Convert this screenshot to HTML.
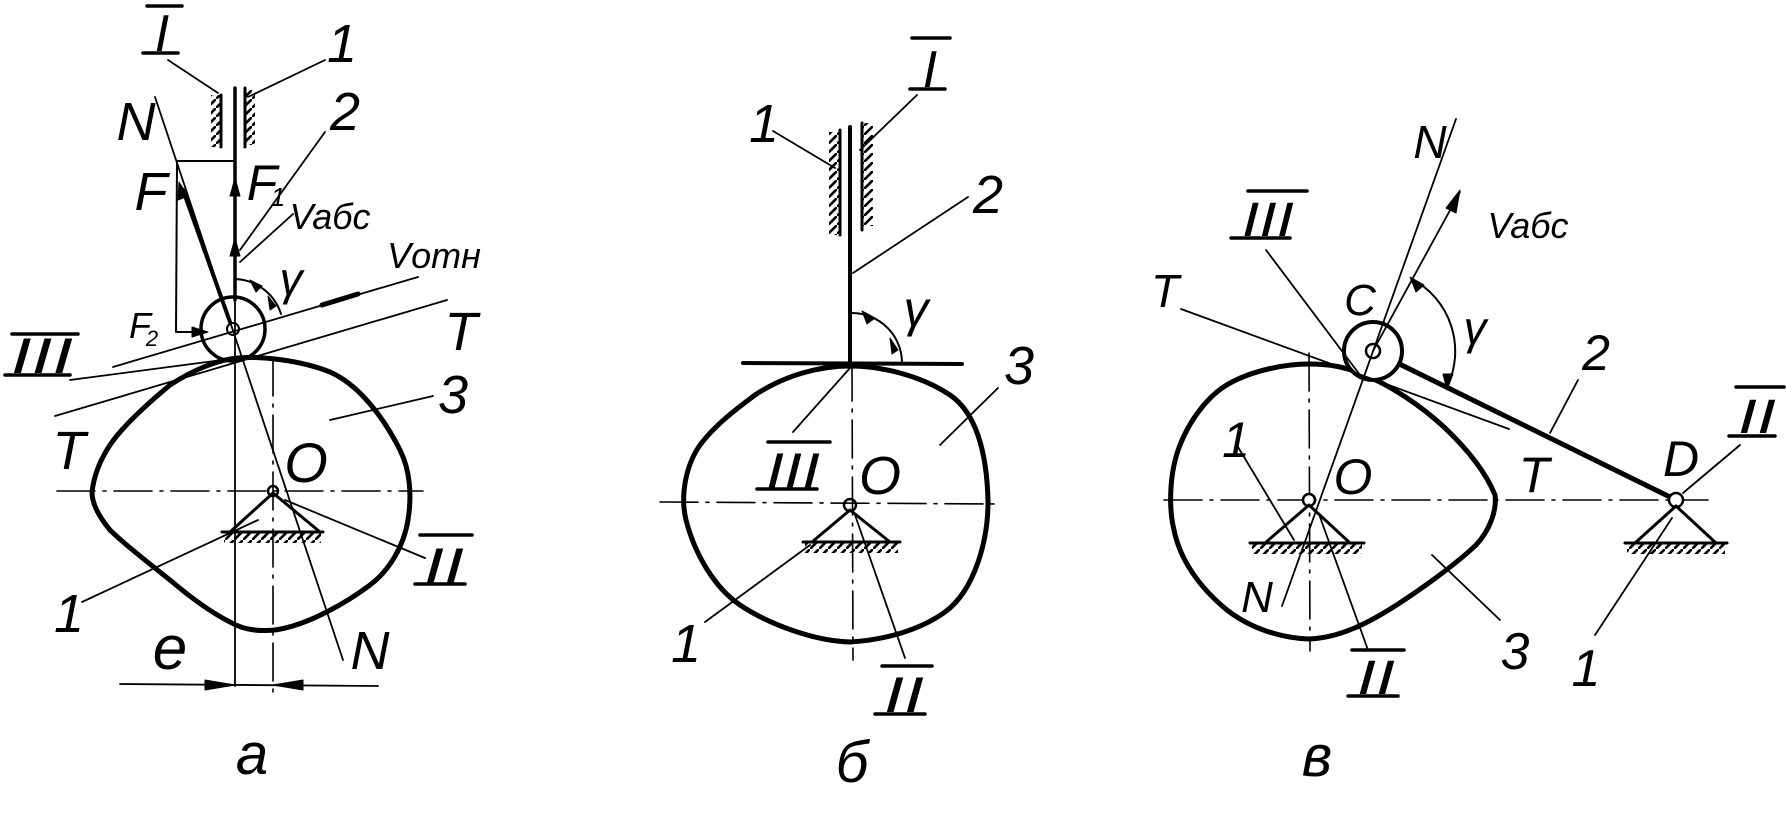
<!DOCTYPE html>
<html><head><meta charset="utf-8"><style>
html,body{margin:0;padding:0;background:#fff;}
svg{display:block}
text{font-family:"Liberation Sans",sans-serif;font-style:italic;fill:#000}
</style></head><body>
<svg width="1786" height="817" viewBox="0 0 1786 817" xmlns="http://www.w3.org/2000/svg">
<defs>
<pattern id="h" patternUnits="userSpaceOnUse" width="9" height="9"><path d="M-1,10 L10,-1" stroke="#000" stroke-width="2.6"/></pattern>
<marker id="ar" viewBox="0 0 10 10" refX="9" refY="5" markerWidth="7" markerHeight="7" markerUnits="userSpaceOnUse" orient="auto"><path d="M0,0 L10,5 L0,10 z" fill="#000"/></marker>
<marker id="ab" viewBox="0 0 10 10" refX="9" refY="5" markerWidth="14" markerHeight="10" markerUnits="userSpaceOnUse" orient="auto"><path d="M0,1 L10,5 L0,9 z" fill="#000"/></marker>
</defs>
<g fill="none" stroke="#000" stroke-linecap="round" stroke-linejoin="round">
<!-- ===== PANEL A ===== -->
<path stroke-width="5" d="M238,358 C260,356 300,360 330,372 C360,385 385,420 400,450 C410,470 412,495 408,520 C404,545 390,570 370,585 C350,600 310,625 275,630 C255,632 240,628 230,622 C210,612 190,597 170,580 C150,564 125,545 110,530 C100,518 92,505 92,492 C94,475 100,460 110,445 C120,430 140,410 170,385 C190,372 215,360 238,358 Z"/>
<line x1="57" y1="491" x2="423" y2="491" stroke-width="1.6" stroke-dasharray="38 8 3 8"/>
<line x1="235" y1="88" x2="235" y2="686" stroke-width="1.8"/>
<line x1="273" y1="358" x2="273" y2="694" stroke-width="1.6" stroke-dasharray="38 8 3 8"/>
<line x1="235" y1="88" x2="235" y2="300" stroke-width="3.5"/>
<line x1="221" y1="95" x2="221" y2="147" stroke-width="3"/>
<line x1="245" y1="88" x2="245" y2="147" stroke-width="3"/>
<rect x="211" y="95" width="9" height="52" fill="url(#h)" stroke="none"/>
<rect x="246" y="90" width="9" height="55" fill="url(#h)" stroke="none"/>
<circle cx="233" cy="329" r="32" stroke-width="3.5"/>
<circle cx="233" cy="329" r="6" stroke-width="2"/>
<polygon points="235,178 230,196 240,196" fill="#000" stroke-width="1"/>
<polygon points="235,238 230,256 240,256" fill="#000" stroke-width="1"/>
<line x1="155" y1="97" x2="343" y2="660" stroke-width="1.8"/>
<line x1="230" y1="322" x2="183" y2="190" stroke-width="4"/>
<polygon points="179,182 178,200 188,196" fill="#000" stroke-width="1"/>
<polyline points="235,161 177,161 176,332 205,332" stroke-width="2"/>
<polygon points="208,332 192,327 192,337" fill="#000" stroke-width="1"/>
<line x1="113" y1="367" x2="418" y2="277" stroke-width="1.8"/>
<line x1="322" y1="305" x2="358" y2="294" stroke-width="5"/>
<line x1="55" y1="416" x2="447" y2="300" stroke-width="1.8"/>
<line x1="70" y1="380" x2="245" y2="357" stroke-width="1.8"/>
<path d="M235,279 A50,50 0 0 1 281,314" stroke-width="2"/>
<polygon points="262,286 250,280 256,292" fill="#000" stroke-width="1"/>
<polygon points="276,306 268,296 270,310" fill="#000" stroke-width="1"/>
<line x1="168" y1="60" x2="218" y2="93" stroke-width="1.8"/>
<line x1="325" y1="60" x2="248" y2="97" stroke-width="1.8"/>
<line x1="325" y1="132" x2="240" y2="250" stroke-width="1.8"/>
<line x1="293" y1="214" x2="240" y2="262" stroke-width="1.8"/>
<line x1="330" y1="420" x2="433" y2="396" stroke-width="1.8"/>
<line x1="285" y1="500" x2="425" y2="558" stroke-width="1.8"/>
<line x1="82" y1="602" x2="258" y2="520" stroke-width="1.8"/>
<circle cx="273" cy="491" r="5" stroke-width="2.5"/>
<polyline points="230,532 273,493 320,532" stroke-width="3"/>
<line x1="222" y1="532" x2="323" y2="532" stroke-width="3"/>
<rect x="224" y="533" width="97" height="10" fill="url(#h)" stroke="none"/>
<line x1="120" y1="684" x2="378" y2="686" stroke-width="1.8"/>
<polygon points="235,685 205,680 205,690" fill="#000" stroke-width="1"/>
<polygon points="273,685 303,680 303,690" fill="#000" stroke-width="1"/>

<!-- ===== PANEL B ===== -->
<path stroke-width="5" d="M850,366 C880,366 920,375 950,395 C975,412 987,450 988,502 C988,540 975,590 945,612 C920,630 885,640 850,642 C815,641 770,625 740,605 C715,588 695,555 686,520 C680,495 686,465 700,445 C715,425 735,410 755,395 C785,375 820,366 850,366 Z"/>
<line x1="660" y1="502" x2="997" y2="504" stroke-width="1.6" stroke-dasharray="38 8 3 8"/>
<line x1="852" y1="363" x2="853" y2="660" stroke-width="1.6" stroke-dasharray="38 8 3 8"/>
<line x1="850" y1="127" x2="850" y2="363" stroke-width="4"/>
<line x1="840" y1="130" x2="840" y2="235" stroke-width="3"/>
<line x1="862" y1="123" x2="862" y2="230" stroke-width="3"/>
<rect x="829" y="132" width="10" height="103" fill="url(#h)" stroke="none"/>
<rect x="863" y="123" width="10" height="103" fill="url(#h)" stroke="none"/>
<line x1="743" y1="363" x2="962" y2="364" stroke-width="4"/>
<path d="M852,313 A50,50 0 0 1 902,363" stroke-width="2"/>
<polygon points="875,318 862,311 867,324" fill="#000" stroke-width="1"/>
<polygon points="898,350 890,338 892,354" fill="#000" stroke-width="1"/>
<line x1="917" y1="95" x2="860" y2="150" stroke-width="1.8"/>
<line x1="773" y1="131" x2="835" y2="168" stroke-width="1.8"/>
<line x1="968" y1="197" x2="853" y2="273" stroke-width="1.8"/>
<line x1="998" y1="388" x2="940" y2="445" stroke-width="1.8"/>
<line x1="793" y1="432" x2="850" y2="368" stroke-width="1.8"/>
<line x1="705" y1="622" x2="810" y2="545" stroke-width="1.8"/>
<line x1="855" y1="515" x2="905" y2="658" stroke-width="1.8"/>
<circle cx="850" cy="505" r="6" stroke-width="2.5"/>
<polyline points="812,542 850,510 890,542" stroke-width="3"/>
<line x1="803" y1="542" x2="900" y2="542" stroke-width="3"/>
<rect x="805" y="543" width="93" height="10" fill="url(#h)" stroke="none"/>

<!-- ===== PANEL C ===== -->
<path stroke-width="5" d="M1309,364 C1330,364 1345,367 1362,374 C1390,385 1420,405 1444,427 C1465,447 1485,470 1495,495 C1497,510 1490,530 1476,545 C1455,565 1420,590 1395,606 C1370,622 1340,638 1309,639 C1280,638 1250,628 1227,610 C1200,588 1180,560 1174,530 C1168,505 1170,470 1180,445 C1192,415 1212,392 1232,382 C1255,370 1285,364 1309,364 Z"/>
<line x1="1164" y1="500" x2="1708" y2="500" stroke-width="1.6" stroke-dasharray="38 8 3 8"/>
<line x1="1309" y1="353" x2="1310" y2="651" stroke-width="1.6" stroke-dasharray="38 8 3 8"/>
<line x1="1373" y1="351" x2="1676" y2="500" stroke-width="5"/>
<circle cx="1373" cy="351" r="29" stroke-width="4" fill="#fff"/>
<circle cx="1373" cy="351" r="7" stroke-width="2.5"/>
<line x1="1456" y1="119" x2="1282" y2="606" stroke-width="1.8"/>
<line x1="1373" y1="351" x2="1460" y2="192" stroke-width="1.8"/>
<polygon points="1460,190 1446,208 1456,213" fill="#000" stroke-width="1"/>
<line x1="1181" y1="309" x2="1509" y2="429" stroke-width="1.8"/>
<line x1="1266" y1="250" x2="1360" y2="375" stroke-width="1.8"/>
<path d="M1412,279 A82,82 0 0 1 1447,387" stroke-width="2"/>
<polygon points="1410,277 1424,285 1416,292" fill="#000" stroke-width="1"/>
<polygon points="1447,390 1443,374 1453,374" fill="#000" stroke-width="1"/>
<line x1="1550" y1="433" x2="1578" y2="380" stroke-width="1.8"/>
<line x1="1683" y1="493" x2="1740" y2="445" stroke-width="1.8"/>
<line x1="1238" y1="447" x2="1294" y2="540" stroke-width="1.8"/>
<line x1="1320" y1="517" x2="1368" y2="650" stroke-width="1.8"/>
<line x1="1432" y1="555" x2="1500" y2="620" stroke-width="1.8"/>
<line x1="1595" y1="635" x2="1672" y2="518" stroke-width="1.8"/>
<circle cx="1309" cy="500" r="6" stroke-width="2.5" fill="#fff"/>
<polyline points="1265,543 1309,505 1350,543" stroke-width="3"/>
<line x1="1250" y1="543" x2="1364" y2="543" stroke-width="3"/>
<rect x="1252" y="544" width="110" height="10" fill="url(#h)" stroke="none"/>
<circle cx="1676" cy="500" r="7" stroke-width="2.5" fill="#fff"/>
<polyline points="1635,543 1676,506 1716,543" stroke-width="3"/>
<line x1="1625" y1="543" x2="1727" y2="543" stroke-width="3"/>
<rect x="1627" y="544" width="98" height="10" fill="url(#h)" stroke="none"/>
</g>

<!-- Roman numeral bars -->
<g stroke="#000" stroke-width="3.5" stroke-linecap="round">
<line x1="147" y1="6" x2="182" y2="6"/><line x1="143" y1="53" x2="178" y2="53"/>
<line x1="12" y1="334" x2="78" y2="334"/><line x1="5" y1="375" x2="70" y2="375"/>
<line x1="420" y1="535" x2="472" y2="535"/><line x1="415" y1="584" x2="465" y2="584"/>
<line x1="912" y1="38" x2="950" y2="38"/><line x1="910" y1="89" x2="945" y2="89"/>
<line x1="768" y1="442" x2="830" y2="442"/><line x1="757" y1="489" x2="817" y2="489"/>
<line x1="882" y1="666" x2="932" y2="666"/><line x1="875" y1="714" x2="925" y2="714"/>
<line x1="1248" y1="191" x2="1307" y2="191"/><line x1="1231" y1="238" x2="1290" y2="238"/>
<line x1="1736" y1="387" x2="1784" y2="387"/><line x1="1729" y1="436" x2="1775" y2="436"/>
<line x1="1352" y1="650" x2="1404" y2="650"/><line x1="1348" y1="696" x2="1398" y2="696"/>
</g>
<g font-size="54" text-anchor="middle">
<text x="162" y="51" font-size="52">I</text>
<text x="342" y="62">1</text>
<text x="136" y="140">N</text>
<text x="151" y="210">F</text>
<text x="262" y="200" font-size="50">F</text><text x="278" y="206" font-size="26">1</text>
<text x="345" y="130">2</text>
<text x="330" y="229" font-size="36">Vaбc</text>
<text x="291" y="295" font-size="46">γ</text>
<text x="434" y="268" font-size="36">Vотн</text>
<text x="461" y="350">T</text>
<text x="140" y="338" font-size="36">F</text><text x="152" y="346" font-size="22">2</text>
<text x="42" y="373" font-size="50" textLength="62" lengthAdjust="spacingAndGlyphs">III</text>
<text x="69" y="469">T</text>
<text x="453" y="413">3</text>
<text x="306" y="482" font-size="56">O</text>
<text x="444" y="583" font-size="50" textLength="40" lengthAdjust="spacingAndGlyphs">II</text>
<text x="69" y="632">1</text>
<text x="370" y="669">N</text>
<text x="170" y="669" font-size="62">e</text>
<text x="252" y="774" font-family="Liberation Serif" font-size="58">а</text>

<text x="930" y="87" font-size="52">I</text>
<text x="764" y="142">1</text>
<text x="988" y="213">2</text>
<text x="916" y="326" font-size="50">γ</text>
<text x="1019" y="384">3</text>
<text x="793" y="488" font-size="50" textLength="54" lengthAdjust="spacingAndGlyphs">III</text>
<text x="880" y="494">O</text>
<text x="686" y="662">1</text>
<text x="904" y="712" font-size="50" textLength="40" lengthAdjust="spacingAndGlyphs">II</text>
<text x="852" y="782" font-family="Liberation Serif" font-size="58">б</text>

<text x="1430" y="158" font-size="46">N</text>
<text x="1528" y="238" font-size="36">Vaбc</text>
<text x="1268" y="236" font-size="48" textLength="52" lengthAdjust="spacingAndGlyphs">III</text>
<text x="1165" y="307" font-size="46">T</text>
<text x="1360" y="315" font-size="44">C</text>
<text x="1475" y="344" font-size="46">γ</text>
<text x="1596" y="370" font-size="50">2</text>
<text x="1757" y="433" font-size="48" textLength="38" lengthAdjust="spacingAndGlyphs">II</text>
<text x="1681" y="476" font-size="50">D</text>
<text x="1534" y="492" font-size="50">T</text>
<text x="1353" y="494" font-size="50">O</text>
<text x="1236" y="457" font-size="50">1</text>
<text x="1257" y="612" font-size="44">N</text>
<text x="1376" y="694" font-size="48" textLength="38" lengthAdjust="spacingAndGlyphs">II</text>
<text x="1515" y="669" font-size="52">3</text>
<text x="1586" y="686" font-size="52">1</text>
<text x="1317" y="776" font-family="Liberation Serif" font-size="58">в</text>
</g>
</svg>
</body></html>
